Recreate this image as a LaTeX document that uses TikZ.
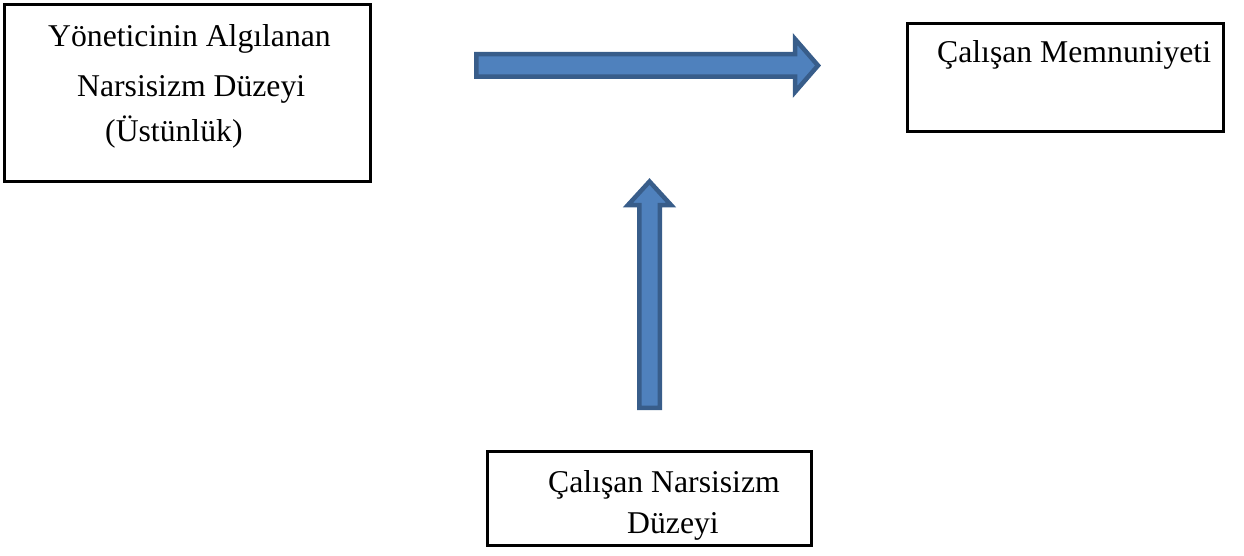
\documentclass[tikz,border=0pt]{standalone}
\usepackage{fontspec}
\setmainfont{Liberation Serif}
\definecolor{arrfill}{HTML}{4F81BD}
\definecolor{arrline}{HTML}{385D8A}
\begin{document}
\begin{tikzpicture}[x=1pt,y=-1pt,
  boxframe/.style={draw=black,line width=3pt},
  lbl/.style={anchor=base west,inner sep=0pt,font=\fontsize{31.7}{38}\selectfont},
  blockarrow/.style={fill=arrfill,draw=arrline,line width=4.5pt,line join=miter}]
\useasboundingbox (0,0) rectangle (1244,556);
% boxes
\draw[boxframe] (4.5,4.5) rectangle (370.5,181.5);
\draw[boxframe] (907.5,23.5) rectangle (1223.5,131.5);
\draw[boxframe] (487.5,451.5) rectangle (811.5,545.5);
% texts
\node[lbl] (t1) at (48,46.7) {Yöneticinin Algılanan};
\node[lbl] (t2) at (77,96.7) {Narsisizm Düzeyi};
\node[lbl] (t3) at (105,141.7) {(Üstünlük)};
\node[lbl] (t4) at (937,63) {Çalışan Memnuniyeti};
\node[lbl] (t5) at (548,492) {Çalışan Narsisizm};
\node[lbl] (t6) at (627,533) {Düzeyi};
% horizontal block arrow
\draw[blockarrow] (476.25,54.25) -- (795,54.25) -- (795,39) -- (818,65.5)
  -- (795,92) -- (795,76.75) -- (476.25,76.75) -- cycle;
% vertical block arrow
\draw[blockarrow] (639.25,407.75) -- (639.25,205) -- (628,205) -- (649.5,181.5)
  -- (671,205) -- (659.75,205) -- (659.75,407.75) -- cycle;
\end{tikzpicture}
\end{document}
